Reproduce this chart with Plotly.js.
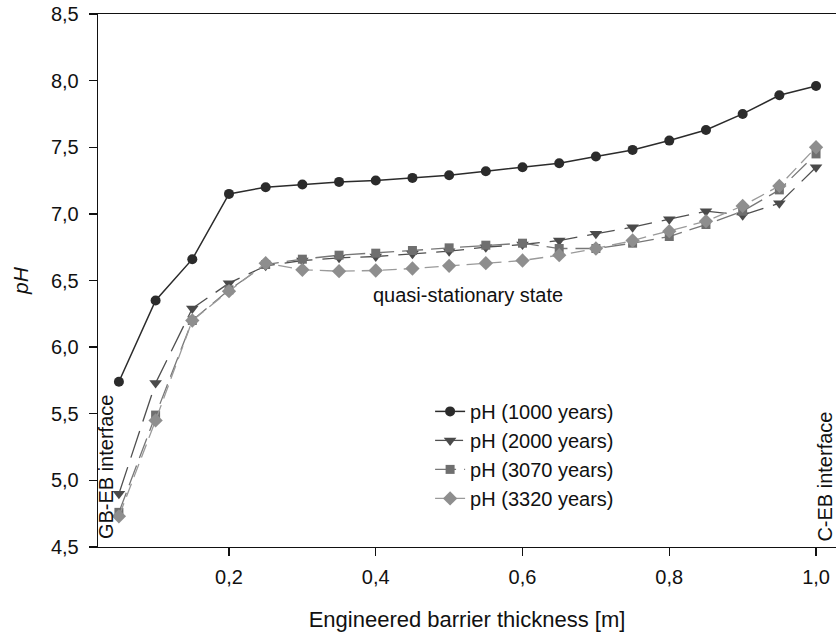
<!DOCTYPE html>
<html>
<head>
<meta charset="utf-8">
<script src="https://cdn.plot.ly/plotly-3.0.1.min.js"></script>
<style>html,body{margin:0;padding:0;background:#fff;}#chart{width:836px;height:638px;}</style>
</head>
<body>
<div id="chart"></div>
<script>
// Engineered barrier thickness [m]
const thickness = [0.05,0.10,0.15,0.20,0.25,0.30,0.35,0.40,0.45,0.50,0.55,0.60,0.65,0.70,0.75,0.80,0.85,0.90,0.95,1.00];
const seriesNames = ["pH (1000 years)","pH (2000 years)","pH (3070 years)","pH (3320 years)"];
const ph1000 = [5.74,6.35,6.66,7.15,7.20,7.22,7.24,7.25,7.27,7.29,7.32,7.35,7.38,7.43,7.48,7.55,7.63,7.75,7.89,7.96];
const ph2000 = [4.90,5.73,6.29,6.48,6.61,6.65,6.67,6.68,6.70,6.72,6.75,6.77,6.80,6.85,6.90,6.96,7.02,6.99,7.08,7.35];
const ph3070 = [4.76,5.49,6.20,6.43,6.62,6.66,6.69,6.705,6.725,6.745,6.765,6.78,6.74,6.74,6.78,6.83,6.92,7.02,7.18,7.45];
const ph3320 = [4.73,5.45,6.20,6.42,6.63,6.58,6.57,6.575,6.59,6.61,6.63,6.65,6.69,6.74,6.80,6.87,6.945,7.06,7.21,7.50];
const xTicks = [0.2,0.4,0.6,0.8,1.0];
const yTicks = [4.5,5.0,5.5,6.0,6.5,7.0,7.5,8.0,8.5];
const annText = {quasi:"quasi-stationary state", gb:"GB-EB interface", ceb:"C-EB interface"};

const FONT = "Liberation Sans, Arial, Helvetica, sans-serif";
const traces = [
  {x: thickness, y: ph1000, name: seriesNames[0], mode: "lines+markers",
   line: {color: "#2b2b2b", width: 1.5},
   marker: {symbol: "circle", size: 10, color: "#2b2b2b"}},
  {x: thickness, y: ph2000, name: seriesNames[1], mode: "lines+markers",
   line: {color: "#4f4f4f", width: 1.3, dash: "28px,10px"},
   marker: {symbol: "triangle-down", size: 11, color: "#4a4a4a"}},
  {x: thickness, y: ph3070, name: seriesNames[2], mode: "lines+markers",
   line: {color: "#777777", width: 1.3, dash: "21px,8px"},
   marker: {symbol: "square", size: 9, color: "#6f6f6f"}},
  {x: thickness, y: ph3320, name: seriesNames[3], mode: "lines+markers",
   line: {color: "#9a9a9a", width: 1.3, dash: "14px,7px"},
   marker: {symbol: "diamond", size: 11, color: "#8e8e8e"}}
];

const layout = {
  width: 836, height: 638,
  margin: {l: 98, r: 0, t: 14, b: 91},
  paper_bgcolor: "#ffffff", plot_bgcolor: "#ffffff",
  separators: ",.",
  font: {family: FONT, size: 20, color: "#111111"},
  showlegend: true,
  legend: {x: 0.45, y: 0.291, xanchor: "left", yanchor: "top",
           bgcolor: "rgba(0,0,0,0)", font: {family: FONT, size: 20, color: "#111"},
           itemwidth: 30, tracegroupgap: 0},
  xaxis: {
    range: [0.0215, 1.0272], tickvals: xTicks, tickformat: ".1f",
    showgrid: false, zeroline: false, showline: true, linecolor: "#111", linewidth: 1.3,
    mirror: true, ticks: "outside", ticklen: 8, tickcolor: "#111", tickwidth: 1.3,
    ticklabelstandoff: 4,
    tickfont: {family: FONT, size: 20, color: "#111"},
    title: {text: "Engineered barrier thickness [m]", font: {family: FONT, size: 22, color: "#111"}, standoff: 24}
  },
  yaxis: {
    range: [4.5, 8.5], tickvals: yTicks, tickformat: ".1f",
    showgrid: false, zeroline: false, showline: true, linecolor: "#111", linewidth: 1.3,
    mirror: false, ticks: "outside", ticklen: 8, tickcolor: "#111", tickwidth: 1.3,
    ticklabelstandoff: 6,
    tickfont: {family: FONT, size: 20, color: "#111"},
    title: {text: "<i>pH</i>", font: {family: FONT, size: 21, color: "#111"}, standoff: 16}
  },
  annotations: [
    {x: 0.526, y: 6.39, xref: "x", yref: "y", text: annText.quasi, showarrow: false,
     font: {family: FONT, size: 20, color: "#111"}, xanchor: "center", yanchor: "middle"},
    {x: 0.0325, y: 5.1, xref: "x", yref: "y", text: annText.gb, showarrow: false, textangle: -90,
     font: {family: FONT, size: 20, color: "#111"}, xanchor: "center", yanchor: "middle"},
    {x: 1.0125, y: 5.03, xref: "x", yref: "y", text: annText.ceb, showarrow: false, textangle: -90,
     font: {family: FONT, size: 20, color: "#111"}, xanchor: "center", yanchor: "middle"}
  ]
};

Plotly.newPlot("chart", traces, layout, {displayModeBar: false, staticPlot: true});
</script>
</body>
</html>
